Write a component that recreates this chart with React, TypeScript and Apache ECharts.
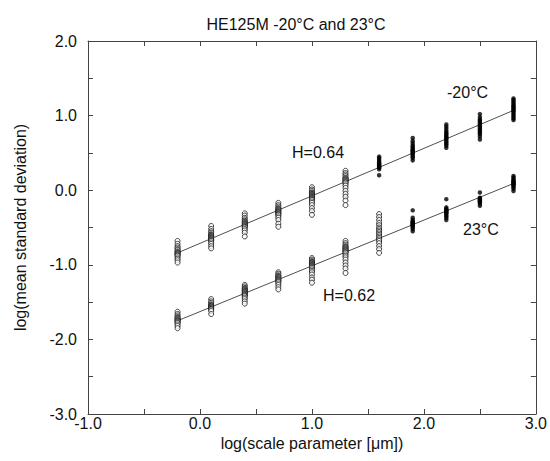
import React, { useEffect, useRef } from "react";
import * as echarts from "echarts";

const titleText = "HE125M -20°C and 23°C";
const xAxisName = "log(scale parameter [μm])";
const yAxisName = "log(mean standard deviation)";

const scalePositions = [-0.2, 0.1, 0.4, 0.7, 1.0, 1.3, 1.6, 1.9, 2.2, 2.5, 2.8];

// -20°C clusters (one array per scale position)
const coldClusters: number[][] = [
  [-0.68, -0.72, -0.75, -0.77, -0.79, -0.8, -0.82, -0.83, -0.84, -0.85, -0.86, -0.87, -0.88, -0.9, -0.92, -0.94, -0.97],
  [-0.48, -0.52, -0.55, -0.57, -0.59, -0.6, -0.61, -0.62, -0.63, -0.64, -0.65, -0.66, -0.67, -0.68, -0.7, -0.72, -0.75, -0.78],
  [-0.31, -0.34, -0.37, -0.39, -0.41, -0.42, -0.43, -0.44, -0.45, -0.46, -0.47, -0.48, -0.49, -0.5, -0.52, -0.54, -0.57, -0.62],
  [-0.17, -0.2, -0.22, -0.24, -0.25, -0.26, -0.27, -0.28, -0.29, -0.3, -0.31, -0.32, -0.33, -0.35, -0.37, -0.4, -0.45, -0.49],
  [0.04, 0.01, -0.01, -0.03, -0.04, -0.05, -0.06, -0.07, -0.08, -0.09, -0.1, -0.11, -0.12, -0.13, -0.15, -0.17, -0.2, -0.24, -0.28, -0.33],
  [0.26, 0.23, 0.21, 0.19, 0.17, 0.16, 0.15, 0.14, 0.13, 0.12, 0.11, 0.1, 0.08, 0.06, 0.03, -0.01, -0.05, -0.09, -0.14, -0.2],
  [0.45, 0.43, 0.41, 0.39, 0.37, 0.36, 0.35, 0.34, 0.33, 0.32, 0.31, 0.3, 0.28, 0.2],
  [0.7, 0.66, 0.63, 0.6, 0.58, 0.56, 0.54, 0.53, 0.52, 0.5, 0.49, 0.47, 0.45, 0.43, 0.4],
  [0.88, 0.85, 0.82, 0.79, 0.77, 0.75, 0.73, 0.71, 0.7, 0.68, 0.66, 0.64, 0.62, 0.6, 0.57],
  [1.02, 0.98, 0.95, 0.93, 0.91, 0.89, 0.87, 0.85, 0.83, 0.81, 0.79, 0.77, 0.75, 0.72, 0.68],
  [1.23, 1.21, 1.19, 1.17, 1.15, 1.13, 1.12, 1.1, 1.09, 1.07, 1.06, 1.04, 1.02, 1.0, 0.98, 0.96, 0.94],
];
const coldOpenCount = 6; // first 6 scale positions drawn with open circles

// 23°C clusters
const warmClusters: number[][] = [
  [-1.63, -1.66, -1.68, -1.7, -1.71, -1.72, -1.73, -1.74, -1.75, -1.76, -1.77, -1.78, -1.8, -1.82, -1.85],
  [-1.46, -1.49, -1.51, -1.53, -1.54, -1.55, -1.56, -1.57, -1.58, -1.59, -1.6, -1.62, -1.66],
  [-1.27, -1.29, -1.31, -1.32, -1.33, -1.34, -1.35, -1.36, -1.37, -1.38, -1.39, -1.4, -1.41, -1.42, -1.44, -1.46, -1.49, -1.52],
  [-1.1, -1.12, -1.14, -1.15, -1.16, -1.17, -1.18, -1.19, -1.2, -1.21, -1.22, -1.23, -1.25, -1.27, -1.3, -1.33],
  [-0.91, -0.93, -0.95, -0.96, -0.97, -0.98, -0.99, -1.0, -1.01, -1.02, -1.03, -1.04, -1.06, -1.08, -1.1, -1.13, -1.17, -1.2, -1.24],
  [-0.68, -0.71, -0.73, -0.75, -0.76, -0.77, -0.78, -0.79, -0.8, -0.81, -0.82, -0.83, -0.84, -0.86, -0.88, -0.9, -0.93, -0.97, -1.01, -1.05, -1.11],
  [-0.32, -0.36, -0.4, -0.44, -0.47, -0.5, -0.52, -0.54, -0.56, -0.58, -0.6, -0.62, -0.64, -0.66, -0.68, -0.71, -0.75, -0.79, -0.84],
  [-0.27, -0.37, -0.4, -0.42, -0.43, -0.44, -0.45, -0.46, -0.47, -0.48, -0.5, -0.52, -0.55],
  [-0.12, -0.23, -0.25, -0.26, -0.27, -0.28, -0.29, -0.3, -0.31, -0.33, -0.35, -0.37, -0.4],
  [-0.03, -0.1, -0.11, -0.12, -0.13, -0.14, -0.15, -0.16, -0.18, -0.21],
  [0.19, 0.17, 0.15, 0.13, 0.12, 0.11, 0.1, 0.09, 0.08, 0.07, 0.06, 0.04, 0.02, -0.01],
];
const warmOpenCount = 7;

const coldFit = [[-0.2, -0.84], [2.8, 1.07]];
const warmFit = [[-0.2, -1.75], [2.8, 0.09]];

const annotations = [
  { text: "H=0.64", x: 292, y: 153 },
  { text: "-20°C", x: 447, y: 93 },
  { text: "23°C", x: 463, y: 230 },
  { text: "H=0.62", x: 323, y: 296 },
];

function toPoints(clusters: number[][], from: number, to: number) {
  const pts: number[][] = [];
  for (let i = from; i < to; i++) {
    for (const v of clusters[i]) pts.push([scalePositions[i], v]);
  }
  return pts;
}

const FONT = "'Liberation Sans', Arial, sans-serif";
const FS = 16;

export default function App() {
  const ref = useRef<HTMLDivElement>(null);
  useEffect(() => {
    if (!ref.current) return;
    const chart = echarts.init(ref.current, undefined, { renderer: "svg" });
    const axisLine = { show: true, onZero: false, lineStyle: { color: "#444", width: 1 } };
    const tick = { show: true, inside: true, length: 5, lineStyle: { color: "#444" } };
    const fmt = (v: number) => (Math.abs(v % 1) < 1e-9 ? v.toFixed(1) : "");
    const openStyle = { color: "#fff", borderColor: "#000", borderWidth: 0.9 };
    const filledStyle = { color: "#000" };
    chart.setOption({
      animation: false,
      backgroundColor: "#fff",
      textStyle: { fontFamily: FONT },
      title: {
        text: titleText,
        left: 291,
        top: 11,
        textAlign: "center",
        textStyle: { fontFamily: FONT, fontSize: FS, fontWeight: "normal", color: "#111" },
      },
      grid: { left: 88, right: 13, top: 41, bottom: 47 },
      xAxis: [
        {
          type: "value",
          min: -1,
          max: 3,
          interval: 0.5,
          position: "bottom",
          name: xAxisName,
          nameLocation: "middle",
          nameGap: 10,
          nameTextStyle: { fontFamily: FONT, fontSize: FS, color: "#111" },
          axisLine,
          axisTick: tick,
          splitLine: { show: false },
          axisLabel: { formatter: fmt, margin: 1, fontFamily: FONT, fontSize: FS, color: "#111" },
        },
        {
          type: "value",
          min: -1,
          max: 3,
          interval: 0.5,
          position: "top",
          axisLine,
          axisTick: tick,
          splitLine: { show: false },
          axisLabel: { show: false },
        },
      ],
      yAxis: [
        {
          type: "value",
          min: -3,
          max: 2,
          interval: 0.5,
          position: "left",
          name: yAxisName,
          nameLocation: "middle",
          nameGap: 68,
          nameTextStyle: { fontFamily: FONT, fontSize: FS, color: "#111", verticalAlign: "middle" },
          axisLine,
          axisTick: tick,
          splitLine: { show: false },
          axisLabel: { formatter: fmt, margin: 11, fontFamily: FONT, fontSize: FS, color: "#111" },
        },
        {
          type: "value",
          min: -3,
          max: 2,
          interval: 0.5,
          position: "right",
          axisLine,
          axisTick: tick,
          splitLine: { show: false },
          axisLabel: { show: false },
        },
      ],
      series: [
        {
          type: "line",
          data: coldFit,
          symbol: "none",
          lineStyle: { color: "#222", width: 0.8 },
          z: 1,
        },
        {
          type: "line",
          data: warmFit,
          symbol: "none",
          lineStyle: { color: "#222", width: 0.8 },
          z: 1,
        },
        {
          type: "scatter",
          data: toPoints(coldClusters, 0, coldOpenCount),
          symbol: "circle",
          symbolSize: 5,
          itemStyle: openStyle,
          z: 2,
        },
        {
          type: "scatter",
          data: toPoints(coldClusters, coldOpenCount, coldClusters.length),
          symbol: "circle",
          symbolSize: 4.5,
          itemStyle: filledStyle,
          z: 2,
        },
        {
          type: "scatter",
          data: toPoints(warmClusters, 0, warmOpenCount),
          symbol: "circle",
          symbolSize: 5,
          itemStyle: openStyle,
          z: 2,
        },
        {
          type: "scatter",
          data: toPoints(warmClusters, warmOpenCount, warmClusters.length),
          symbol: "circle",
          symbolSize: 4.5,
          itemStyle: filledStyle,
          z: 2,
        },
      ],
      graphic: annotations.map((a) => ({
        type: "text",
        left: a.x,
        top: a.y - 9,
        style: { text: a.text, fill: "#111", font: `${FS}px ${FONT}` },
      })),
    });
    return () => chart.dispose();
  }, []);
  return (
    <div
      ref={ref}
      style={{ position: "absolute", left: 0, top: 0, width: 550, height: 461 }}
    />
  );
}
